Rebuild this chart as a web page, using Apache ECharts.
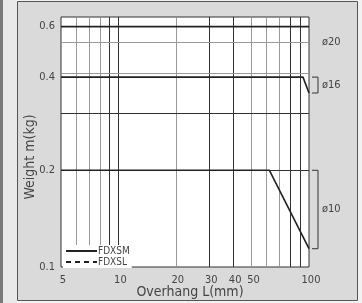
<!DOCTYPE html>
<html>
<head>
<meta charset="utf-8">
<script src="https://cdn.jsdelivr.net/npm/echarts@6/dist/echarts.min.js"></script>
<style>
  html, body { margin: 0; padding: 0; background: #f2f2f2; }
  #main { width: 362px; height: 303px; }
</style>
</head>
<body>
<div id="main"></div>
<script>
// 5~100mm overhang, log/log grid
const xGrid = [6, 7, 8, 9, 10, 20, 30, 40, 50, 60, 70, 80, 90];
const xGridDark = [9, 10, 30, 40, 80, 90];
const xTickValues = [5, 10, 20, 30, 40, 50, 100];
const xTickLabels = ['5', '10', '20', '30', '40', '50', '100'];

const yGrid = [0.2, 0.3, 0.4, 0.5];
const yGridDark = [0.2, 0.3];
const yTickValues = [0.1, 0.2, 0.39, 0.56];
const yTickLabels = ['0.1', '0.2', '0.4', '0.6'];

// FDXSM curves per shaft diameter
const len20 = [5, 100];
const wt20 = [0.56, 0.56];
const len16 = [5, 93, 100];
const wt16 = [0.39, 0.39, 0.348];
const len10 = [5, 62, 100];
const wt10 = [0.2, 0.2, 0.114];

const FONT = "'Liberation Sans Narrow', 'DejaVu Sans Condensed', 'Liberation Sans', sans-serif";
const TXT = '#444';
const NONE = 'rgba(0,0,0,0)';

const pairs = (xs, ys) => xs.map((x, i) => [x, ys[i]]);

let lines = [];
xGrid.forEach(v => {
    lines.push({ xAxis: v, lineStyle: { color: xGridDark.includes(v) ? '#333' : '#999' } });
});
yGrid.forEach(v => {
    lines.push({ yAxis: v, lineStyle: { color: yGridDark.includes(v) ? '#333' : '#999' } });
});
xTickValues.forEach((v, i) => {
    lines.push({
        xAxis: v,
        lineStyle: { color: NONE },
        label: { show: true, position: 'start', formatter: xTickLabels[i], distance: 8, offset: [2, 0] }
    });
});
yTickValues.forEach((v, i) => {
    lines.push({
        yAxis: v,
        lineStyle: { color: NONE },
        label: { show: true, position: 'start', formatter: yTickLabels[i], distance: 6 }
    });
});

const solid = { color: '#222', width: 1.6, type: 'solid' };

let chart = echarts.init(document.getElementById('main'));
chart.setOption({
    animation: false,
    textStyle: { fontFamily: FONT },
    grid: {
        left: 61, right: 53, top: 17, bottom: 36,
        outerBoundsMode: 'none',
        show: true, backgroundColor: '#fff', borderColor: '#333', borderWidth: 1
    },
    legend: {
        data: ['FDXSM', 'FDXSL'],
        orient: 'vertical',
        left: 63, top: 245,
        itemWidth: 31, itemHeight: 8, itemGap: 1,
        padding: [1, 2, 1, 2],
        backgroundColor: '#fff',
        selectedMode: false,
        itemStyle: { opacity: 0 },
        textStyle: { fontSize: 10, color: TXT, fontFamily: FONT, padding: [0, 0, 0, -4] }
    },
    xAxis: {
        type: 'log', min: 5, max: 100,
        name: 'Overhang L(mm)', nameLocation: 'middle', nameGap: 18,
        nameTextStyle: { fontSize: 14, color: TXT, fontFamily: FONT, padding: [0, 0, 0, 10] },
        axisLine: { show: false }, axisTick: { show: false },
        axisLabel: { show: false }, splitLine: { show: false }
    },
    yAxis: {
        type: 'log', min: 0.1, max: 0.6,
        name: 'Weight m(kg)', nameLocation: 'middle', nameGap: 24,
        nameTextStyle: { fontSize: 14, color: TXT, fontFamily: FONT, padding: [0, 30, 0, 0] },
        axisLine: { show: false }, axisTick: { show: false },
        axisLabel: { show: false }, splitLine: { show: false }
    },
    series: [
        {
            name: 'grid', type: 'line', data: [], z: 1,
            markLine: {
                silent: true, symbol: ['none', 'none'], z: 1, animation: false,
                lineStyle: { type: 'solid', width: 1 },
                label: { show: false, color: TXT, fontSize: 11, fontFamily: FONT },
                data: lines
            }
        },
        { name: 'FDXSM', type: 'line', data: pairs(len20, wt20), symbol: 'none', lineStyle: solid, itemStyle: { color: '#222' }, z: 3 },
        { name: 'FDXSM', type: 'line', data: pairs(len16, wt16), symbol: 'none', lineStyle: solid, itemStyle: { color: '#222' }, z: 3 },
        { name: 'FDXSM', type: 'line', data: pairs(len10, wt10), symbol: 'none', lineStyle: solid, itemStyle: { color: '#222' }, z: 3 },
        { name: 'FDXSL', type: 'line', data: [], symbol: 'none', lineStyle: { color: '#222', width: 1.2, type: [5, 4] }, itemStyle: { color: '#222' } }
    ]
});

// panel + diameter brackets, placed from the chart scale
const px = (x, y) => chart.convertToPixel({ gridIndex: 0 }, [x, y]);
const right = px(100, 0.1)[0];

function bracket(yTop, yBot) {
    const a = px(100, yTop)[1], b = px(100, yBot)[1];
    return {
        type: 'polyline', z: 10,
        shape: { points: [[right + 3, a], [right + 9, a], [right + 9, b], [right + 3, b]] },
        style: { stroke: '#333', lineWidth: 1, fill: null }
    };
}
function tag(text, y) {
    return {
        type: 'text', z: 10, x: right + 13, y: y,
        style: { text: text, fill: TXT, fontSize: 11, fontFamily: FONT, verticalAlign: 'middle' }
    };
}

chart.setOption({
    graphic: [
        { type: 'rect', z: -100, shape: { x: 0, y: 0, width: 3, height: 303 }, style: { fill: '#7a7a7a' } },
        { type: 'rect', z: -100, shape: { x: 3, y: 0, width: 14, height: 303 }, style: { fill: '#e9e9e9' } },
        { type: 'rect', z: -90, shape: { x: 17.5, y: 1.5, width: 340, height: 299 }, style: { fill: '#dadada', stroke: '#555', lineWidth: 1 } },
        bracket(wt16[1], wt16[2]),
        bracket(wt10[1], wt10[2]),
        tag('ø20', px(100, 0.5)[1]),
        tag('ø16', (px(100, wt16[1])[1] + px(100, wt16[2])[1]) / 2),
        tag('ø10', (px(100, wt10[1])[1] + px(100, wt10[2])[1]) / 2)
    ]
});
</script>
</body>
</html>
